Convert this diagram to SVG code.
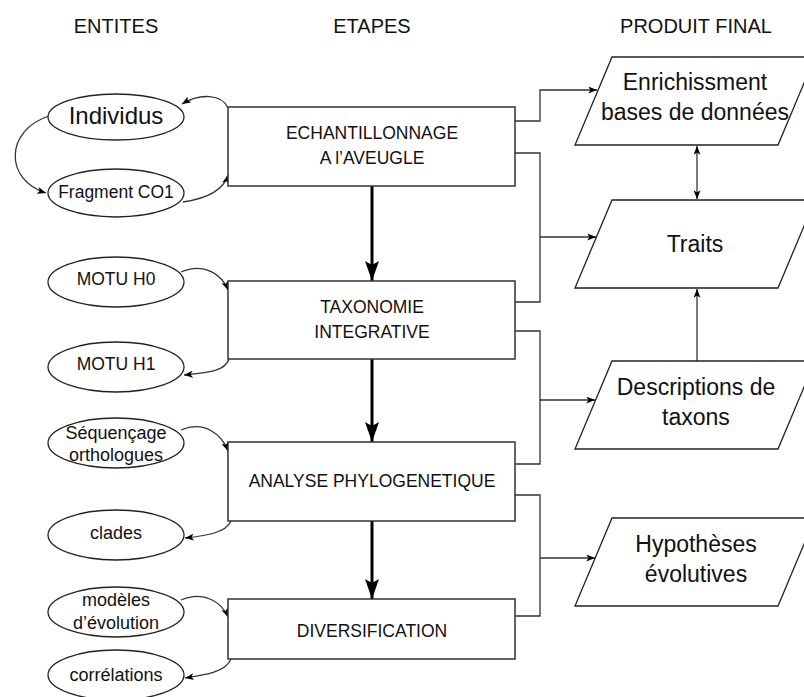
<svg xmlns="http://www.w3.org/2000/svg" width="804" height="697" viewBox="0 0 804 697">
<style>
text{font-family:"Liberation Sans",Arial,sans-serif;fill:#111;text-anchor:middle}
.hdr{font-size:20px}
.box{fill:#fff;stroke:#333;stroke-width:1.5}
.bt{font-size:17.5px}
.ell{fill:#fff;stroke:#222;stroke-width:1.3}
.et{font-size:18px}
.par{fill:#fff;stroke:#222;stroke-width:1.3}
.pt{font-size:23px}
.ln{fill:none;stroke:#333;stroke-width:1.3}
.thick{fill:none;stroke:#000;stroke-width:3}
</style>
<defs>
<marker id="a" viewBox="0 0 10 8" refX="10" refY="4" markerWidth="9" markerHeight="7" markerUnits="userSpaceOnUse" orient="auto-start-reverse">
<path d="M0,0 L10,4 L0,8 L2.5,4 z" fill="#000"/>
</marker>
<marker id="b" viewBox="0 0 20 14" refX="20" refY="7" markerWidth="20" markerHeight="14" markerUnits="userSpaceOnUse" orient="auto">
<path d="M0,0 L20,7 L0,14 L4,7 z" fill="#000"/>
</marker>
</defs>

<g id="headers">
<text class="hdr" x="116" y="33">ENTITES</text>
<text class="hdr" x="372" y="33">ETAPES</text>
<text class="hdr" x="696" y="33">PRODUIT FINAL</text>
</g>

<g id="connectors">
<!-- thick stage arrows -->
<line class="thick" x1="372" y1="186" x2="372" y2="281" marker-end="url(#b)"/>
<line class="thick" x1="372" y1="359" x2="372" y2="442" marker-end="url(#b)"/>
<line class="thick" x1="372" y1="521" x2="372" y2="599" marker-end="url(#b)"/>
<!-- right side -->
<polyline class="ln" points="515,121 540,121 540,90 597,90" marker-end="url(#a)"/>
<polyline class="ln" points="515,153 540,153 540,302 515,302"/>
<line class="ln" x1="540" y1="237" x2="596" y2="237" marker-end="url(#a)"/>
<polyline class="ln" points="515,331 540,331 540,464 515,464"/>
<line class="ln" x1="540" y1="400" x2="595" y2="400" marker-end="url(#a)"/>
<polyline class="ln" points="515,495 540,495 540,616 515,616"/>
<line class="ln" x1="540" y1="558" x2="595" y2="558" marker-end="url(#a)"/>
<line class="ln" x1="697" y1="146" x2="697" y2="199" marker-start="url(#a)" marker-end="url(#a)"/>
<line class="ln" x1="697" y1="361" x2="697" y2="289" marker-end="url(#a)"/>
<!-- left side -->
<path class="ln" d="M228,108 C222,94 200,93 182,104" marker-end="url(#a)"/>
<path class="ln" d="M49,116 C5,130 4,180 46,193" marker-end="url(#a)"/>
<path class="ln" d="M183,202 C210,198 224,189 228,175" marker-end="url(#a)"/>
<path class="ln" d="M181,272 C205,262 222,275 228,290" marker-end="url(#a)"/>
<path class="ln" d="M229,359 C225,372 205,373 184,375" marker-end="url(#a)"/>
<path class="ln" d="M181,430 C205,420 222,435 228,451" marker-end="url(#a)"/>
<path class="ln" d="M231,521 C226,533 205,536 185,538" marker-end="url(#a)"/>
<path class="ln" d="M181,600 C205,590 222,603 228,617" marker-end="url(#a)"/>
<path class="ln" d="M231,659 C226,672 205,675 185,678" marker-end="url(#a)"/>
</g>

<g id="echantillonnage">
<rect class="box" x="228" y="107" width="287" height="79"/>
<text class="bt" x="372" y="139">ECHANTILLONNAGE</text>
<text class="bt" x="372" y="164">A l’AVEUGLE</text>
</g>
<g id="taxonomie">
<rect class="box" x="228" y="281" width="287" height="78"/>
<text class="bt" x="372" y="313">TAXONOMIE</text>
<text class="bt" x="372" y="338">INTEGRATIVE</text>
</g>
<g id="analyse">
<rect class="box" x="228" y="442" width="287" height="79"/>
<text class="bt" x="372" y="487">ANALYSE PHYLOGENETIQUE</text>
</g>
<g id="diversification">
<rect class="box" x="228" y="599" width="287" height="60"/>
<text class="bt" x="372" y="637">DIVERSIFICATION</text>
</g>

<g id="individus">
<ellipse class="ell" cx="116" cy="117" rx="68" ry="23"/>
<text x="116" y="124" style="font-size:24px">Individus</text>
</g>
<g id="fragment">
<ellipse class="ell" cx="116" cy="193" rx="68" ry="24"/>
<text x="116" y="198" style="font-size:17.5px">Fragment CO1</text>
</g>
<g id="motu-h0">
<ellipse class="ell" cx="116" cy="282" rx="68" ry="25"/>
<text x="116" y="285" style="font-size:17.5px">MOTU H0</text>
</g>
<g id="motu-h1">
<ellipse class="ell" cx="116" cy="367" rx="68" ry="25"/>
<text x="116" y="370" style="font-size:17.5px">MOTU H1</text>
</g>
<g id="sequencage">
<ellipse class="ell" cx="116" cy="443" rx="68" ry="25"/>
<text class="et" x="116" y="439">Séquençage</text>
<text class="et" x="116" y="461">orthologues</text>
</g>
<g id="clades">
<ellipse class="ell" cx="116" cy="535" rx="68" ry="25"/>
<text class="et" x="116" y="539">clades</text>
</g>
<g id="modeles">
<ellipse class="ell" cx="116" cy="612" rx="68" ry="25"/>
<text class="et" x="116" y="606">modèles</text>
<text class="et" x="116" y="629">d’évolution</text>
</g>
<g id="correlations">
<ellipse class="ell" cx="116" cy="675" rx="68" ry="25"/>
<text class="et" x="116" y="681">corrélations</text>
</g>

<g id="enrichissement">
<polygon class="par" points="612,57 815,57 778,145 575,145"/>
<text class="pt" x="695" y="90">Enrichissment</text>
<text class="pt" x="695" y="120">bases de données</text>
</g>
<g id="traits">
<polygon class="par" points="612,200 815,200 778,288 575,288"/>
<text class="pt" x="695" y="252">Traits</text>
</g>
<g id="descriptions">
<polygon class="par" points="612,361 815,361 778,449 575,449"/>
<text class="pt" x="696" y="395">Descriptions de</text>
<text class="pt" x="696" y="425">taxons</text>
</g>
<g id="hypotheses">
<polygon class="par" points="612,518 815,518 778,606 575,606"/>
<text class="pt" x="696" y="552">Hypothèses</text>
<text class="pt" x="696" y="582">évolutives</text>
</g>
</svg>
